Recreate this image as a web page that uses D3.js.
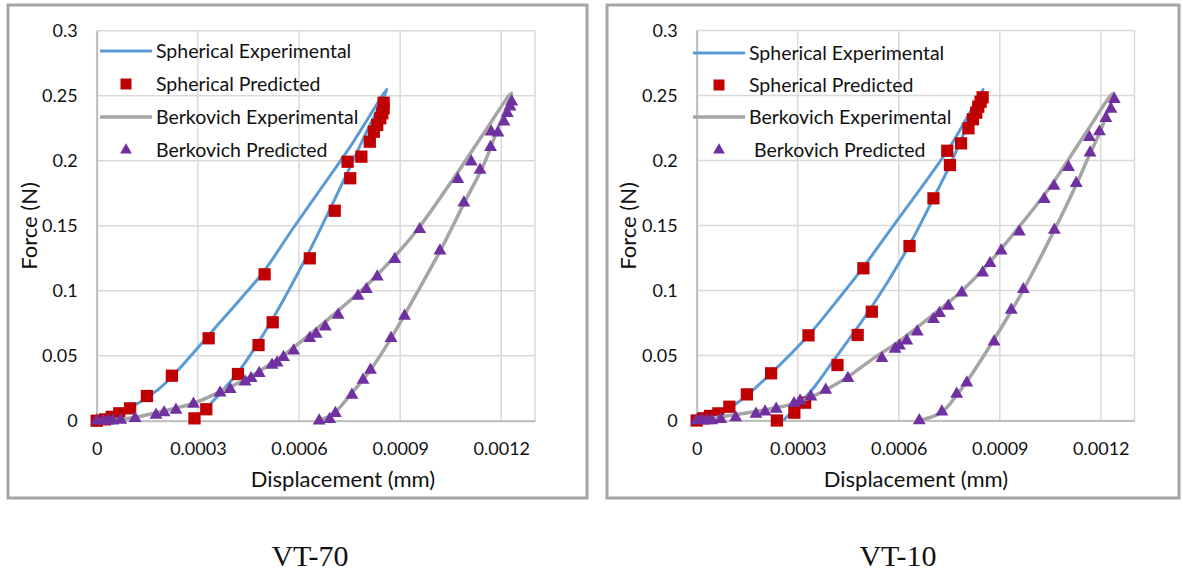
<!DOCTYPE html>
<html>
<head>
<meta charset="utf-8">
<script src="https://cdn.jsdelivr.net/npm/d3@7"></script>
<style>
  body { margin: 0; background: #fff; }
  svg { display: block; }
  text { font-family: Lato, "Open Sans", sans-serif; fill: #111; }
</style>
</head>
<body>
<script>
// force-displacement data, [displacement mm, force N]
const xTicks = [0, 0.0003, 0.0006, 0.0009, 0.0012];
const yTicks = [0, 0.05, 0.1, 0.15, 0.2, 0.25, 0.3];
const seriesNames = ["Spherical Experimental", "Spherical Predicted", "Berkovich Experimental", "Berkovich Predicted"];

// VT-70
const vt70SphExp = [[0,0],[0.00005,0.003],[0.0001,0.0105],[0.00013,0.0146],[0.00018,0.0235],[0.000223,0.0338],
  [0.000307,0.0582],[0.000365,0.0755],[0.000426,0.0935],[0.000495,0.1146],[0.000579,0.1467],[0.00068,0.184],
  [0.000752,0.2108],[0.000861,0.255],
  [0.0008,0.222],[0.000752,0.1955],[0.000698,0.166],[0.000629,0.1295],[0.00052,0.0775],[0.000426,0.0395],
  [0.000366,0.021],[0.000325,0.009],[0.000318,0.005]];
const vt70SphPred = [[0,0],[0.0000247,0.001],[0.0000445,0.003],[0.000067,0.0057],[0.0000992,0.0095],[0.000149,0.019],
  [0.000223,0.0346],[0.000332,0.0634],[0.000498,0.1126],[0.00029,0.0018],[0.000325,0.0088],[0.000419,0.0359],
  [0.00048,0.0582],[0.000522,0.0757],[0.000632,0.1249],[0.000706,0.1615],[0.000752,0.1865],[0.000744,0.1992],
  [0.000785,0.2031],[0.00081,0.2146],[0.000822,0.2223],[0.000832,0.2275],[0.000841,0.2326],[0.000847,0.2365],
  [0.000851,0.2403],[0.000851,0.2446]];
const vt70BerkExp = [[0,0],[0.0001,0.002],[0.000178,0.0062],[0.000287,0.0134],[0.000366,0.0223],[0.000455,0.0338],
  [0.000554,0.0505],[0.000604,0.0605],[0.000693,0.0795],[0.000802,0.1044],[0.000886,0.127],[0.00095,0.1465],
  [0.001069,0.1903],[0.001148,0.2211],[0.00123,0.252],
  [0.001188,0.2236],[0.001148,0.197],[0.001089,0.167],[0.00102,0.1313],[0.000911,0.0805],[0.000871,0.0625],
  [0.000812,0.039],[0.000752,0.0198],[0.000703,0.0057],[0.000658,0]];
const vt70BerkPred = [[0,0],[0.0000196,0],[0.0000345,0],[0.0000475,0],[0.0000713,0.0005],[0.000114,0.0018],
  [0.000176,0.0044],[0.0002,0.0062],[0.000235,0.0082],[0.000287,0.0128],[0.000366,0.0215],[0.000396,0.0241],
  [0.00044,0.03],[0.000458,0.0326],[0.000482,0.0365],[0.00052,0.0428],[0.000535,0.0446],[0.000554,0.0488],
  [0.000584,0.0538],[0.000632,0.0634],[0.000651,0.0667],[0.000678,0.0723],[0.000716,0.0813],[0.000775,0.0959],
  [0.0008,0.101],[0.000832,0.1108],[0.000884,0.1242],[0.000958,0.1472],[0.001071,0.1857],[0.001111,0.1992],
  [0.00117,0.2223],[0.00119,0.2215],[0.001208,0.23],[0.001218,0.2365],[0.001226,0.2415],[0.001231,0.2454],
  [0.001168,0.2103],[0.001137,0.1928],[0.001089,0.1677],[0.001018,0.1308],[0.000913,0.0805],[0.000873,0.0634],
  [0.000812,0.039],[0.00079,0.0313],[0.000757,0.0198],[0.000708,0.0057],[0.000691,0.0011],[0.00066,0]];

// VT-10
const vt10SphExp = [[0,0],[0.00005,0.004],[0.000119,0.0132],[0.000221,0.0363],[0.000332,0.0655],[0.000426,0.0952],
  [0.000495,0.118],[0.000569,0.1445],[0.000604,0.157],[0.000752,0.2106],[0.000851,0.2548],
  [0.000802,0.226],[0.000752,0.1965],[0.000703,0.1709],[0.000629,0.1337],[0.00052,0.0875],[0.000406,0.046],
  [0.00035,0.026],[0.0003,0.0115],[0.000257,0]];
const vt10SphPred = [[0,0],[0.0000196,0.0017],[0.0000396,0.0035],[0.0000643,0.0055],[0.0000969,0.0106],[0.000149,0.0201],
  [0.000221,0.0363],[0.000332,0.0655],[0.000495,0.1171],[0.000238,0],[0.00029,0.006],[0.000322,0.0137],
  [0.000418,0.0427],[0.000478,0.0658],[0.00052,0.0837],[0.000632,0.1342],[0.000703,0.1709],[0.000752,0.1965],
  [0.000744,0.2075],[0.000785,0.2132],[0.000807,0.2248],[0.00082,0.2317],[0.00083,0.2368],[0.000836,0.2414],
  [0.000843,0.2452],[0.000849,0.2486]];
const vt10BerkExp = [[0,0],[0.000109,0.0042],[0.000228,0.0094],[0.000307,0.0145],[0.000426,0.0298],[0.000525,0.0478],
  [0.000604,0.0615],[0.000693,0.0795],[0.000782,0.0985],[0.000871,0.122],[0.000945,0.145],[0.00105,0.1798],
  [0.001148,0.2183],[0.001237,0.2517],
  [0.001198,0.2222],[0.001168,0.2055],[0.001129,0.1825],[0.001062,0.1465],[0.000971,0.1009],[0.00093,0.0825],
  [0.000881,0.0615],[0.000802,0.0298],[0.000772,0.0195],[0.000728,0.0065],[0.000663,0]];
const vt10BerkPred = [[0,0],[0.0000149,0],[0.0000297,0],[0.0000446,0],[0.0000713,0.0009],[0.000116,0.0022],
  [0.000176,0.005],[0.000203,0.0068],[0.000236,0.0088],[0.000289,0.0132],[0.000307,0.0152],[0.000339,0.0183],
  [0.000383,0.0235],[0.000449,0.0325],[0.00055,0.0478],[0.000589,0.055],[0.000602,0.0575],[0.000624,0.0614],
  [0.000655,0.0683],[0.000703,0.0778],[0.000721,0.0825],[0.000747,0.0881],[0.000787,0.0983],[0.000849,0.1137],
  [0.000871,0.1209],[0.000904,0.1306],[0.000958,0.1452],[0.001032,0.1702],[0.001061,0.1804],[0.001104,0.1948],
  [0.001166,0.2178],[0.001196,0.2222],[0.001215,0.2325],[0.00123,0.2396],[0.00124,0.2471],
  [0.001168,0.206],[0.001127,0.1825],[0.001062,0.1465],[0.00097,0.1009],[0.000934,0.085],[0.000883,0.0606],
  [0.000802,0.0291],[0.000772,0.0204],[0.000728,0.0068],[0.000661,0]];

const width = 1183,
    height = 572;

const blue = "#5B9BD5", gray = "#A5A5A5", red = "#C00000", purple = "#7030A0";

const svg = d3.select("body")
    .append("svg")
    .attr("width", width)
    .attr("height", height);

// layout of each framed panel
const panels = [
  { label: "VT-70", sph: vt70SphExp, sphPred: vt70SphPred, berk: vt70BerkExp, berkPred: vt70BerkPred,
    box: [8, 5, 587, 498], xr: [96.7, 535], yr: [420.7, 30.7],
    legX: 100, legRows: [51, 84, 117, 150], titleX: 343, forceX: 29, labelX: 310, predPad: "" },
  { label: "VT-10", sph: vt10SphExp, sphPred: vt10SphPred, berk: vt10BerkExp, berkPred: vt10BerkPred,
    box: [607, 5, 1179, 498], xr: [696.7, 1134.5], yr: [420.5, 30.5],
    legX: 693, legRows: [53, 85, 117, 150], titleX: 916, forceX: 628, labelX: 898, predPad: "\u00a0" }
];

const fmtX = d => d === 0 ? "0" : d.toFixed(4);
const fmtY = d => d === 0 ? "0" : String(+d.toFixed(2));

panels.forEach(drawPanel);

function drawPanel(p) {
  const g = svg.append("g");

  g.append("rect")
    .attr("x", p.box[0]).attr("y", p.box[1])
    .attr("width", p.box[2] - p.box[0]).attr("height", p.box[3] - p.box[1])
    .attr("fill", "#fff")
    .attr("stroke", "#a6a6a6")
    .attr("stroke-width", 3);

  const x = d3.scaleLinear().domain([0, 0.0013]).range(p.xr);
  const y = d3.scaleLinear().domain([0, 0.3]).range(p.yr);

  // gridlines (plus the right edge of the plot area)
  g.append("g").selectAll("line")
    .data(yTicks)
    .join("line")
    .attr("x1", x(0)).attr("x2", x(0.0013))
    .attr("y1", d => y(d)).attr("y2", d => y(d))
    .attr("stroke", "#d9d9d9").attr("stroke-width", 1.5);
  g.append("g").selectAll("line")
    .data(xTicks.concat([0.0013]))
    .join("line")
    .attr("x1", d => x(d)).attr("x2", d => x(d))
    .attr("y1", y(0)).attr("y2", y(0.3))
    .attr("stroke", "#d9d9d9").attr("stroke-width", 1.5);

  const styleAxis = a => {
    a.attr("font-family", null).attr("font-size", null);
    a.select(".domain").attr("stroke", "#bfbfbf").attr("stroke-width", 2);
    a.selectAll("text").style("font-size", "18px");
  };

  g.append("g")
    .attr("transform", `translate(${x(0)},0)`)
    .call(d3.axisLeft(y).tickValues(yTicks).tickSize(0).tickPadding(19).tickFormat(fmtY))
    .call(styleAxis);

  g.append("g")
    .attr("transform", `translate(0,${y(0)})`)
    .call(d3.axisBottom(x).tickValues(xTicks).tickSize(0).tickPadding(22).tickFormat(fmtX))
    .call(styleAxis);

  // axis titles
  g.append("text")
    .attr("x", p.titleX).attr("y", 487)
    .attr("text-anchor", "middle")
    .style("font-size", "22px")
    .text("Displacement (mm)");
  g.append("text")
    .attr("transform", `translate(${p.forceX},226) rotate(-90)`)
    .attr("text-anchor", "middle")
    .attr("dy", "0.35em")
    .style("font-size", "22px")
    .text("Force (N)");

  const line = d3.line()
    .x(d => x(d[0]))
    .y(d => y(d[1]))
    .curve(d3.curveCatmullRom.alpha(0.5));

  const square = d3.symbol(d3.symbolSquare, 150);
  const triangle = d3.symbol(d3.symbolTriangle, 72);

  g.append("path")
    .attr("d", line(p.sph))
    .attr("fill", "none").attr("stroke", blue).attr("stroke-width", 3);

  g.append("g").selectAll("path")
    .data(p.sphPred)
    .join("path")
    .attr("transform", d => `translate(${x(d[0])},${y(d[1])})`)
    .attr("d", square)
    .attr("fill", red);

  g.append("path")
    .attr("d", line(p.berk))
    .attr("fill", "none").attr("stroke", gray).attr("stroke-width", 3.5);

  g.append("g").selectAll("path")
    .data(p.berkPred)
    .join("path")
    .attr("transform", d => `translate(${x(d[0])},${y(d[1])})`)
    .attr("d", triangle)
    .attr("fill", purple);

  // legend
  const leg = g.append("g");
  const rows = seriesNames.map((name, i) => ({ name: i === 3 ? p.predPad + name : name, i }));
  leg.selectAll("text")
    .data(rows)
    .join("text")
    .attr("x", p.legX + 56)
    .attr("y", d => p.legRows[d.i])
    .attr("dy", "0.36em")
    .style("font-size", "19.5px")
    .text(d => d.name);
  leg.append("line")
    .attr("x1", p.legX).attr("x2", p.legX + 52)
    .attr("y1", p.legRows[0]).attr("y2", p.legRows[0])
    .attr("stroke", blue).attr("stroke-width", 3);
  leg.append("line")
    .attr("x1", p.legX).attr("x2", p.legX + 52)
    .attr("y1", p.legRows[2]).attr("y2", p.legRows[2])
    .attr("stroke", gray).attr("stroke-width", 3.5);
  leg.append("path")
    .attr("transform", `translate(${p.legX + 26},${p.legRows[1]})`)
    .attr("d", d3.symbol(d3.symbolSquare, 121))
    .attr("fill", red);
  leg.append("path")
    .attr("transform", `translate(${p.legX + 26},${p.legRows[3]})`)
    .attr("d", d3.symbol(d3.symbolTriangle, 60))
    .attr("fill", purple);

  // caption under the frame
  svg.append("text")
    .attr("x", p.labelX).attr("y", 566)
    .attr("text-anchor", "middle")
    .style("font-family", "'Liberation Serif', 'Times New Roman', serif")
    .style("font-size", "30px")
    .text(p.label);
}
</script>
</body>
</html>
